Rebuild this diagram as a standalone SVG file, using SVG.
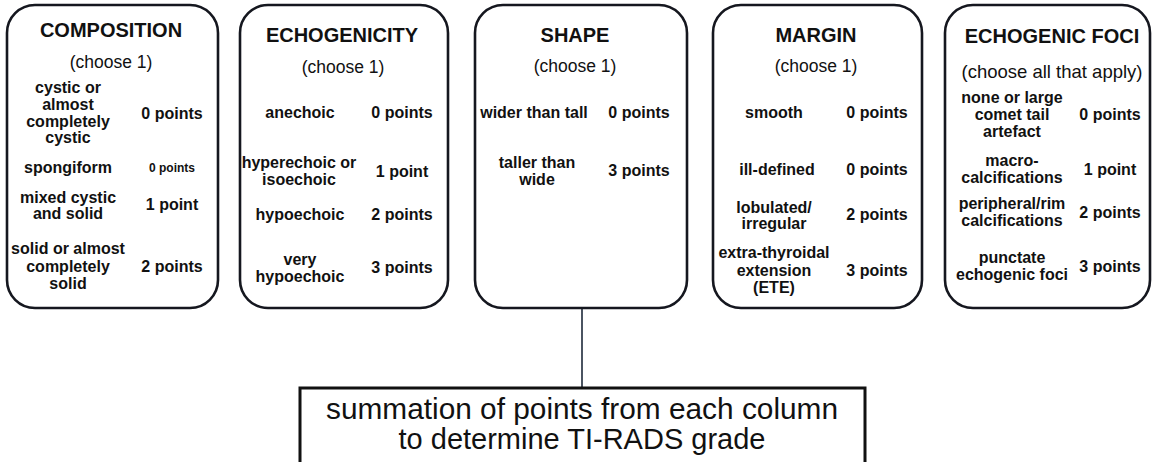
<svg xmlns="http://www.w3.org/2000/svg" width="1154" height="462" viewBox="0 0 1154 462">
  <style>
    .card { fill: #ffffff; stroke: #15171f; stroke-width: 2.6; }
    .sum { fill: #ffffff; stroke: #111111; stroke-width: 3; }
    .link { stroke: #1e2a3a; stroke-width: 1.6; fill: none; }
    text { font-family: "Liberation Sans", Arial, sans-serif; fill: #111111; text-anchor: middle; }
    .hd { font-size: 20px; font-weight: bold; }
    .ch { font-size: 17.5px; }
    .it { font-size: 16px; font-weight: bold; }
    .sm { font-size: 12px; font-weight: bold; }
    .big { font-size: 29px; }
  </style>
  <rect width="1154" height="462" fill="#ffffff"/>

  <!-- connector from the SHAPE card down to the summary box -->
  <g id="connectors">
    <line class="link" x1="582" y1="308" x2="582" y2="388"/>
  </g>

  <g id="composition">
    <rect class="card" x="7" y="5" width="211" height="303" rx="28"/>
    <text class="hd" x="111" y="37">COMPOSITION</text>
    <text class="ch" x="111" y="68">(choose 1)</text>
    <text class="it" x="68" y="93">cystic or</text>
    <text class="it" x="68" y="110">almost</text>
    <text class="it" x="68" y="127">completely</text>
    <text class="it" x="68" y="143">cystic</text>
    <text class="it" x="172" y="119">0 points</text>
    <text class="it" x="68" y="173">spongiform</text>
    <text class="sm" x="172" y="172">0 points</text>
    <text class="it" x="68" y="203">mixed cystic</text>
    <text class="it" x="68" y="219">and solid</text>
    <text class="it" x="172" y="210">1 point</text>
    <text class="it" x="68" y="254">solid or almost</text>
    <text class="it" x="68" y="272">completely</text>
    <text class="it" x="68" y="289">solid</text>
    <text class="it" x="172" y="272">2 points</text>
  </g>

  <g id="echogenicity">
    <rect class="card" x="240" y="5" width="208" height="303" rx="28"/>
    <text class="hd" x="342" y="42">ECHOGENICITY</text>
    <text class="ch" x="343" y="73">(choose 1)</text>
    <text class="it" x="300" y="118">anechoic</text>
    <text class="it" x="402" y="118">0 points</text>
    <text class="it" x="299" y="168">hyperechoic or</text>
    <text class="it" x="299" y="185">isoechoic</text>
    <text class="it" x="402" y="177">1 point</text>
    <text class="it" x="300" y="220">hypoechoic</text>
    <text class="it" x="402" y="220">2 points</text>
    <text class="it" x="300" y="265">very</text>
    <text class="it" x="300" y="282">hypoechoic</text>
    <text class="it" x="402" y="273">3 points</text>
  </g>

  <g id="shape">
    <rect class="card" x="475" y="5" width="212" height="303" rx="28"/>
    <text class="hd" x="575" y="42">SHAPE</text>
    <text class="ch" x="575" y="72">(choose 1)</text>
    <text class="it" x="534" y="118">wider than tall</text>
    <text class="it" x="639" y="118">0 points</text>
    <text class="it" x="537" y="168">taller than</text>
    <text class="it" x="537" y="185">wide</text>
    <text class="it" x="639" y="176">3 points</text>
  </g>

  <g id="margin">
    <rect class="card" x="713" y="5" width="209" height="303" rx="28"/>
    <text class="hd" x="816" y="42">MARGIN</text>
    <text class="ch" x="816" y="72">(choose 1)</text>
    <text class="it" x="774" y="118">smooth</text>
    <text class="it" x="877" y="118">0 points</text>
    <text class="it" x="777" y="175">ill-defined</text>
    <text class="it" x="877" y="175">0 points</text>
    <text class="it" x="774" y="213">lobulated/</text>
    <text class="it" x="774" y="229">irregular</text>
    <text class="it" x="877" y="220">2 points</text>
    <text class="it" x="774" y="258">extra-thyroidal</text>
    <text class="it" x="774" y="276">extension</text>
    <text class="it" x="774" y="293">(ETE)</text>
    <text class="it" x="877" y="276">3 points</text>
  </g>

  <g id="echogenic-foci">
    <rect class="card" x="945" y="5" width="205" height="303" rx="28"/>
    <text class="hd" x="1052" y="43">ECHOGENIC FOCI</text>
    <text class="ch" x="1052" y="78" style="font-size:18.5px">(choose all that apply)</text>
    <text class="it" x="1012" y="103">none or large</text>
    <text class="it" x="1012" y="120">comet tail</text>
    <text class="it" x="1012" y="137">artefact</text>
    <text class="it" x="1110" y="120">0 points</text>
    <text class="it" x="1012" y="166">macro-</text>
    <text class="it" x="1012" y="183">calcifications</text>
    <text class="it" x="1110" y="175">1 point</text>
    <text class="it" x="1012" y="209">peripheral/rim</text>
    <text class="it" x="1012" y="226">calcifications</text>
    <text class="it" x="1110" y="218">2 points</text>
    <text class="it" x="1012" y="263">punctate</text>
    <text class="it" x="1012" y="280">echogenic foci</text>
    <text class="it" x="1110" y="272">3 points</text>
  </g>

  <g id="summation">
    <rect class="sum" x="300" y="388" width="565" height="90"/>
    <text class="big" x="582" y="419" textLength="512" lengthAdjust="spacingAndGlyphs">summation of points from each column</text>
    <text class="big" x="582" y="449">to determine TI-RADS grade</text>
  </g>
</svg>
